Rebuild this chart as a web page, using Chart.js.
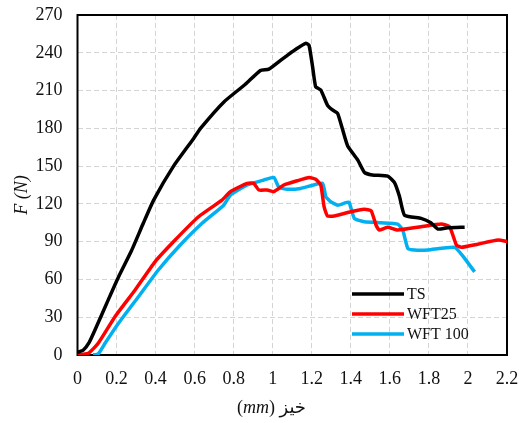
<!DOCTYPE html>
<html>
<head>
<meta charset="utf-8">
<script src="https://cdn.jsdelivr.net/npm/chart.js@4.4.0/dist/chart.umd.min.js"></script>
<style>
  body { margin:0; background:#fff; }
  #wrap { width:519px; height:423px; }
</style>
</head>
<body>
<div id="wrap"><canvas id="chart" width="519" height="423"></canvas></div>
<script>
// --- data (displacement in mm, force in N) ---
const seriesNames = ['TS', 'WFT25', 'WFT 100'];
const seriesColors = ['#000000', '#ff0000', '#00b0f0'];

const tsX = [0, 0.03, 0.06, 0.09, 0.158, 0.21, 0.277, 0.338, 0.39, 0.492, 0.595, 0.63, 0.75, 0.86, 0.937, 0.98, 1.04, 1.075, 1.12, 1.169, 1.186, 1.205, 1.22, 1.246, 1.28, 1.306, 1.332, 1.358, 1.384, 1.435, 1.47, 1.51, 1.589, 1.623, 1.649, 1.675, 1.76, 1.81, 1.846, 1.897, 1.983];
const tsY = [2, 4, 10, 20, 44, 62, 83, 105, 123, 150, 172, 180, 201, 215, 226, 227, 234, 238, 243, 247.5, 246, 228, 213, 210.5, 198.5, 194.6, 192, 179, 166, 155, 145, 143, 142, 137, 126, 111, 108.5, 105, 100, 101, 101.5];

const wft25X = [0, 0.055, 0.106, 0.192, 0.295, 0.397, 0.5, 0.62, 0.74, 0.783, 0.869, 0.903, 0.929, 0.972, 1.005, 1.057, 1.126, 1.186, 1.22, 1.246, 1.263, 1.28, 1.315, 1.4, 1.469, 1.504, 1.529, 1.546, 1.589, 1.64, 1.76, 1.863, 1.906, 1.941, 1.966, 2.05, 2.154, 2.205];
const wft25Y = [0, 1.3, 9.3, 30.4, 51.6, 74, 91.3, 109.8, 123, 129.7, 136.3, 136.3, 131, 131, 129.7, 135, 138.4, 141, 139.5, 135, 117.8, 110.4, 110.4, 113.8, 115.7, 114.6, 103.2, 99.2, 101.4, 99.2, 101.9, 104, 101.9, 87.3, 85.5, 88, 91.3, 90];

const wft100X = [0.08, 0.106, 0.141, 0.21, 0.312, 0.414, 0.518, 0.638, 0.749, 0.783, 0.869, 0.955, 1.006, 1.032, 1.075, 1.143, 1.255, 1.272, 1.297, 1.333, 1.375, 1.392, 1.418, 1.469, 1.555, 1.64, 1.666, 1.692, 1.726, 1.795, 1.932, 1.983, 2.034];
const wft100Y = [0, 0.8, 9.3, 25.2, 46.3, 67.5, 86, 104.6, 119, 127, 135, 139, 141, 133.1, 131.6, 132.3, 136.3, 125.7, 121.7, 119, 121, 121, 108.5, 105.8, 105, 104, 99.2, 84.7, 83.4, 83.4, 85.5, 76.8, 66];

const xTicks = { min: 0, max: 2.2, step: 0.2 };
const yTicks = { min: 0, max: 270, step: 30 };

const pts = (xs, ys) => xs.map((x, i) => ({ x: x, y: ys[i] }));
const allX = [tsX, wft25X, wft100X];
const allY = [tsY, wft25Y, wft100Y];

const SERIF = '"Liberation Serif", "Times New Roman", serif';

// frame, legend box and axis titles drawn on the canvas
const decor = {
    id: 'decor',
    beforeDatasetsDraw(chart) {
        const { ctx, chartArea: a } = chart;
        ctx.save();
        ctx.strokeStyle = '#000';
        ctx.lineWidth = 2;
        ctx.strokeRect(a.left, a.top, a.right - a.left, a.bottom - a.top);
        ctx.restore();
    },
    afterDraw(chart) {
        const ctx = chart.ctx;
        ctx.save();
        // legend
        ctx.font = '16px ' + SERIF;
        ctx.textBaseline = 'middle';
        chart.data.datasets.forEach((ds, i) => {
            const y = 294 + i * 20;
            ctx.strokeStyle = ds.borderColor;
            ctx.lineWidth = 3.5;
            ctx.beginPath();
            ctx.moveTo(352, y);
            ctx.lineTo(404, y);
            ctx.stroke();
            ctx.fillStyle = '#111';
            ctx.fillText(ds.label, 407, y + 1);
        });

        // y title
        ctx.save();
        ctx.translate(22, 195);
        ctx.rotate(-Math.PI / 2);
        ctx.font = 'italic 18px ' + SERIF;
        ctx.textAlign = 'center';
        ctx.fillStyle = '#111';
        ctx.fillText('F (N)', 0, 0);
        ctx.restore();

        // x title: (mm) خیز
        ctx.fillStyle = '#111';
        ctx.textBaseline = 'middle';
        ctx.textAlign = 'left';
        let x = 237;
        const y = 408;
        const parts = [['(', '18px ' + SERIF], ['mm', 'italic 18px ' + SERIF], [') ', '18px ' + SERIF], ['خیز', '18px "DejaVu Sans", serif']];
        parts.forEach(p => {
            ctx.font = p[1];
            ctx.fillText(p[0], x, y);
            x += ctx.measureText(p[0]).width;
        });
        ctx.restore();
    }
};

new Chart(document.getElementById('chart'), {
    type: 'scatter',
    data: {
        datasets: seriesNames.map((name, i) => ({
            label: name,
            data: pts(allX[i], allY[i]),
            showLine: true,
            borderColor: seriesColors[i],
            backgroundColor: seriesColors[i],
            borderWidth: 3.5,
            pointRadius: 0,
            tension: 0.15
        }))
    },
    options: {
        responsive: false,
        devicePixelRatio: 1,
        animation: false,
        layout: { padding: { top: 15, right: 12, left: 0, bottom: 0 } },
        plugins: { legend: { display: false }, tooltip: { enabled: false } },
        scales: {
            x: {
                type: 'linear',
                min: xTicks.min, max: xTicks.max,
                afterFit: s => { s.height = 68; s.paddingLeft = 0; s.paddingRight = 0; },
                ticks: {
                    stepSize: xTicks.step,
                    padding: 13,
                    color: '#111',
                    font: { family: SERIF, size: 18 },
                    callback: v => String(+v.toFixed(1))
                },
                grid: { color: '#d4d4d4', lineWidth: 1, drawTicks: false },
                border: { display: false, dash: [5, 3] }
            },
            y: {
                min: yTicks.min, max: yTicks.max,
                afterFit: s => { s.width = 77.5; s.paddingTop = 0; s.paddingBottom = 0; },
                ticks: {
                    stepSize: yTicks.step,
                    padding: 15,
                    color: '#111',
                    font: { family: SERIF, size: 18 }
                },
                grid: { color: '#d4d4d4', lineWidth: 1, drawTicks: false },
                border: { display: false, dash: [5, 3] }
            }
        }
    },
    plugins: [decor]
});
</script>
</body>
</html>
